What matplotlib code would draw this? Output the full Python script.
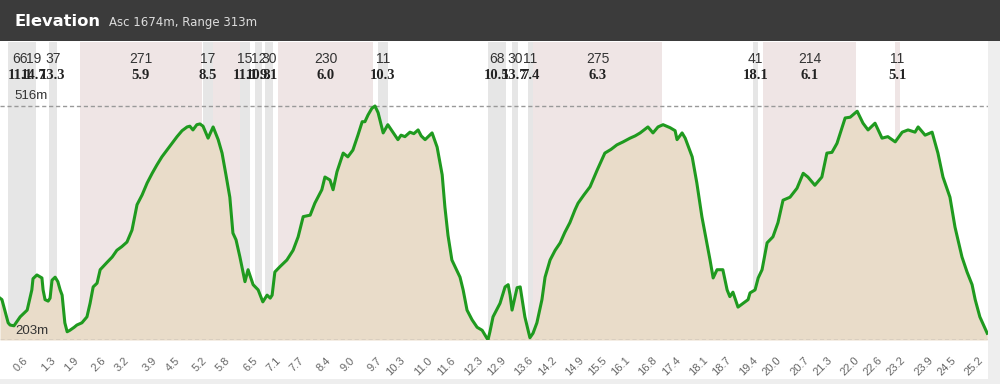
import matplotlib
matplotlib.use("Agg")
import matplotlib.pyplot as plt
from matplotlib.patches import Rectangle
from matplotlib.transforms import blended_transform_factory

# Elevation profile: distance (km) and elevation (m)
dist_km = [
    0.00, 0.05, 0.21, 0.26, 0.36, 0.52, 0.70, 0.82, 0.85, 0.95, 1.08, 1.11,
    1.16, 1.24, 1.29, 1.34, 1.42, 1.49, 1.55, 1.60, 1.67, 1.73, 1.80, 1.91,
    1.98, 2.11, 2.24, 2.32, 2.40, 2.50, 2.58, 2.76, 2.89, 3.01, 3.14, 3.27,
    3.40, 3.53, 3.66, 3.79, 3.92, 4.04, 4.17, 4.30, 4.43, 4.56, 4.69, 4.82,
    4.89, 4.97, 5.07, 5.15, 5.23, 5.36, 5.49, 5.62, 5.72, 5.82, 5.92, 6.00,
    6.08, 6.18, 6.31, 6.39, 6.52, 6.65, 6.77, 6.88, 6.96, 7.01, 7.08, 7.21,
    7.39, 7.55, 7.68, 7.81, 7.99, 8.11, 8.29, 8.37, 8.50, 8.58, 8.68, 8.84,
    8.96, 9.09, 9.22, 9.33, 9.40, 9.48, 9.58, 9.66, 9.74, 9.87, 9.99, 10.12,
    10.25, 10.33, 10.43, 10.56, 10.66, 10.77, 10.85, 10.95, 11.13, 11.26,
    11.39, 11.46, 11.54, 11.64, 11.85, 11.93, 12.03, 12.16, 12.29, 12.42,
    12.49, 12.57, 12.62, 12.70, 12.88, 13.01, 13.09, 13.14, 13.19, 13.32,
    13.40, 13.52, 13.65, 13.73, 13.83, 13.96, 14.04, 14.17, 14.30, 14.43,
    14.55, 14.68, 14.81, 14.89, 15.04, 15.20, 15.38, 15.58, 15.74, 15.89,
    16.05, 16.23, 16.36, 16.49, 16.69, 16.82, 16.95, 17.08, 17.26, 17.39,
    17.44, 17.57, 17.65, 17.83, 17.95, 18.08, 18.16, 18.29, 18.37, 18.47,
    18.62, 18.73, 18.80, 18.88, 19.01, 19.14, 19.27, 19.32, 19.45, 19.53,
    19.63, 19.76, 19.91, 20.04, 20.17, 20.35, 20.53, 20.69, 20.81, 20.99,
    21.17, 21.30, 21.43, 21.56, 21.77, 21.90, 22.08, 22.23, 22.36, 22.54,
    22.72, 22.87, 23.06, 23.24, 23.39, 23.57, 23.65, 23.83, 24.01, 24.16,
    24.29, 24.47, 24.60, 24.78, 24.91, 25.04, 25.12, 25.24, 25.43,
]
elev_m = [
    259, 257, 226, 223, 222, 234, 243, 270, 285, 290, 286, 270,
    257, 255, 259, 283, 287, 281, 270, 263, 226, 214, 216, 220,
    223, 226, 234, 252, 274, 279, 297, 307, 314, 323, 328, 334,
    350, 384, 397, 413, 426, 437, 448, 457, 466, 475, 483, 488,
    489, 484, 491, 492, 489, 473, 488, 471, 453, 424, 394, 346,
    337, 314, 281, 297, 277, 270, 254, 263, 259, 263, 294, 301,
    310, 323, 341, 368, 370, 386, 404, 421, 417, 404, 428, 453,
    448, 457, 477, 495, 495, 504, 513, 516, 507, 480, 491, 481,
    471, 477, 475, 481, 479, 484, 476, 471, 480, 461,
    424, 381, 343, 310, 287, 270, 243, 230, 220, 216,
    210, 203, 214, 234, 252, 274, 277, 263, 243, 273,
    274, 234, 206, 212, 226, 257, 287, 310, 323, 333,
    347, 360, 377, 386, 397, 408, 430, 453, 458, 464,
    468, 473, 476, 480, 488, 480, 488, 491, 487, 483,
    471, 480, 473, 448, 413, 368, 346, 310, 286, 297,
    297, 270, 261, 267, 247, 252, 257, 266, 270, 286,
    297, 333, 341, 360, 390, 394, 406, 426, 421, 410,
    421, 453, 454, 466, 500, 501, 509, 493, 484, 493,
    473, 475, 468, 481, 484, 481, 488, 477, 481, 453,
    421, 394, 354, 314, 294, 277, 257, 234, 212,
]

# Climb segments shaded behind the profile
band_start = [0.21, 0.82, 1.26, 2.06, 5.23, 6.18, 6.57, 6.83, 7.16, 9.74,
              12.57, 13.19, 13.60, 13.73, 19.40, 19.65, 23.05]
band_end = [0.82, 0.93, 1.47, 5.20, 5.49, 6.44, 6.75, 7.03, 9.61, 9.99,
            13.03, 13.34, 13.73, 17.05, 19.53, 22.05, 23.18]
band_gain = ["66", "19", "37", "271", "17", "15", "12", "30", "230", "11",
             "68", "30", "11", "275", "41", "214", "11"]
band_grade = [11.1, 14.7, 13.3, 5.9, 8.5, 11.1, 10.8, 9.1, 6.0, 10.3,
              10.5, 13.7, 7.4, 6.3, 18.1, 6.1, 5.1]
unlabelled_start = [5.49]
unlabelled_end = [6.18]

tick_km = [0.6, 1.3, 1.9, 2.6, 3.2, 3.9, 4.5, 5.2, 5.8, 6.5, 7.1, 7.7, 8.4,
           9.0, 9.7, 10.3, 11.0, 11.6, 12.3, 12.9, 13.6, 14.2, 14.9, 15.5,
           16.1, 16.8, 17.4, 18.1, 18.7, 19.4, 20.0, 20.7, 21.3, 22.0, 22.6,
           23.2, 23.9, 24.5, 25.2]

min_elev = 203
max_elev = 516

PINK = "#efe5e5"
GREY = "#e6e6e6"

fig = plt.figure(figsize=(10, 3.84), dpi=100)
fig.patch.set_facecolor("white")

# header bar and side strips
fig.patches.append(Rectangle((0, 0.893), 1, 0.107, transform=fig.transFigure,
                             facecolor="#3b3b3b", edgecolor="none", zorder=0))
fig.patches.append(Rectangle((0.988, 0), 0.012, 0.893, transform=fig.transFigure,
                             facecolor="#eeeeee", edgecolor="none", zorder=0))
fig.patches.append(Rectangle((0, 0), 1, 0.013, transform=fig.transFigure,
                             facecolor="#eeeeee", edgecolor="none", zorder=0))
fig.text(0.014, 0.943, "Elevation", color="white", fontsize=11.8,
         fontweight="bold", family="DejaVu Sans", va="center")
fig.text(0.109, 0.941, "Asc 1674m, Range 313m", color="#dddddd", fontsize=8.5,
         family="DejaVu Sans", va="center")

ax = fig.add_axes([0, 0.1146, 0.988, 0.776])
ax.set_facecolor("white")
ax.set_xlim(0, 25.45)
ax.set_ylim(min_elev, 601.6)

for s, e, g in zip(band_start, band_end, band_grade):
    ax.axvspan(s, e, color=PINK if g < 7 else GREY, lw=0, zorder=0)
for s, e in zip(unlabelled_start, unlabelled_end):
    ax.axvspan(s, e, color=PINK, lw=0, zorder=0)

ax.fill_between(dist_km, elev_m, min_elev, color="#e9dcc9", lw=0, zorder=1)
ax.plot(dist_km, elev_m, color="#1f9a1f", lw=2.2, zorder=3,
        solid_joinstyle="round")

for y in (min_elev, max_elev):
    ax.axhline(y, color="#999999", lw=1, ls=(0, (3, 2)), zorder=2)
ytrans = blended_transform_factory(ax.transAxes, ax.transData)
ax.text(0.015, max_elev + 5, f"{max_elev}m", fontsize=9.5, color="#333333",
        family="Liberation Sans", transform=ytrans, va="bottom")
ax.text(0.015, min_elev + 4, f"{min_elev}m", fontsize=9.5, color="#333333",
        family="Liberation Sans", transform=ytrans, va="bottom")

# climb labels: gain on top, gradient below
trans = blended_transform_factory(ax.transData, ax.transAxes)
for s, e, gain, g in zip(band_start, band_end, band_gain, band_grade):
    mid = (s + e) / 2
    ax.text(mid, 0.944, gain, transform=trans, ha="center", va="center",
            fontsize=10, color="#333333", family="Liberation Sans")
    ax.text(mid, 0.889, f"{g:.1f}", transform=trans, ha="center", va="center",
            fontsize=10.5, fontweight="bold", color="#222222",
            family="Liberation Serif")

ax.set_xticks(tick_km)
ax.set_xticklabels([f"{t:.1f}" for t in tick_km], rotation=45, ha="right",
                   rotation_mode="anchor", fontsize=8, color="#666666",
                   family="Liberation Sans")
ax.tick_params(axis="x", length=0, pad=11)
ax.set_yticks([])
for sp in ax.spines.values():
    sp.set_visible(False)

fig.savefig("out.png", dpi=100)
